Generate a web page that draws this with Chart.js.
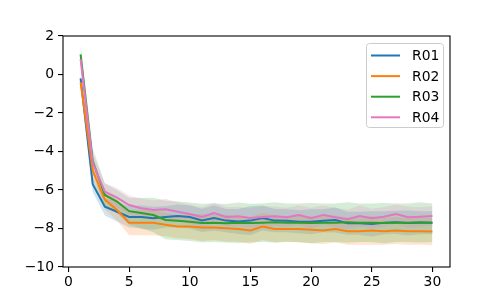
<!DOCTYPE html>
<html>
<head>
<meta charset="utf-8">
<script src="https://cdn.jsdelivr.net/npm/chart.js@4/dist/chart.umd.min.js"></script>
<style>
  html, body { margin: 0; padding: 0; background: #fff; }
  #wrap { width: 500px; height: 300px; }
</style>
</head>
<body>
<div id="wrap"><canvas id="myChart" width="500" height="300"></canvas></div>
<script>
// x positions (run index)
var steps = [1, 2, 3, 4, 5, 6, 7, 8, 9, 10, 11, 12, 13, 14, 15, 16, 17, 18, 19, 20, 21, 22, 23, 24, 25, 26, 27, 28, 29, 30];

var labels = ['R01', 'R02', 'R03', 'R04'];
var colors = ['#1f77b4', '#ff7f0e', '#2ca02c', '#e377c2'];

// mean values
var r01 = [-0.2, -5.7, -6.87, -7.13, -7.4, -7.4, -7.47, -7.4, -7.35, -7.4, -7.58, -7.45, -7.59, -7.64, -7.59, -7.45, -7.59, -7.6, -7.65, -7.65, -7.6, -7.56, -7.73, -7.73, -7.76, -7.7, -7.68, -7.72, -7.7, -7.7];
var r02 = [-0.4, -5.0, -6.5, -7.04, -7.7, -7.7, -7.7, -7.8, -7.9, -7.9, -7.95, -7.95, -7.99, -8.03, -8.1, -7.9, -8.03, -8.03, -8.03, -8.07, -8.1, -8.03, -8.14, -8.14, -8.1, -8.14, -8.1, -8.14, -8.14, -8.16];
var r03 = [1.05, -4.5, -6.26, -6.6, -7.1, -7.2, -7.3, -7.56, -7.6, -7.65, -7.72, -7.7, -7.73, -7.7, -7.72, -7.7, -7.68, -7.7, -7.7, -7.72, -7.7, -7.7, -7.68, -7.7, -7.7, -7.72, -7.7, -7.7, -7.68, -7.7];
var r04 = [0.8, -4.6, -6.09, -6.4, -6.78, -6.95, -7.04, -7.0, -7.13, -7.25, -7.4, -7.2, -7.4, -7.37, -7.45, -7.4, -7.37, -7.42, -7.3, -7.47, -7.3, -7.42, -7.52, -7.35, -7.47, -7.39, -7.25, -7.42, -7.39, -7.35];

// spread (std) around each mean
var r01Std = [0.25, 0.4, 0.45, 0.5, 0.55, 0.6, 0.6, 0.55, 0.6, 0.6, 0.6, 0.65, 0.6, 0.65, 0.75, 0.65, 0.6, 0.6, 0.6, 0.65, 0.6, 0.65, 0.6, 0.6, 0.65, 0.6, 0.6, 0.65, 0.6, 0.6];
var r02Std = [0.35, 0.45, 0.5, 0.55, 0.65, 0.65, 0.65, 0.6, 0.6, 0.65, 0.7, 0.65, 0.7, 0.65, 0.7, 0.7, 0.7, 0.65, 0.7, 0.7, 0.7, 0.7, 0.7, 0.7, 0.75, 0.7, 0.7, 0.7, 0.7, 0.7];
var r03Std = [0.55, 0.65, 0.6, 0.6, 0.7, 0.8, 0.9, 1.0, 1.0, 1.0, 1.0, 1.0, 1.0, 1.05, 1.0, 1.0, 1.05, 1.0, 1.0, 1.05, 1.0, 1.0, 1.05, 1.0, 1.0, 1.05, 1.0, 1.0, 1.05, 1.0];
var r04Std = [0.45, 0.5, 0.45, 0.5, 0.5, 0.5, 0.5, 0.55, 0.5, 0.5, 0.5, 0.55, 0.5, 0.5, 0.5, 0.55, 0.5, 0.5, 0.5, 0.55, 0.5, 0.5, 0.5, 0.55, 0.5, 0.5, 0.5, 0.55, 0.5, 0.5];

var xTicks = [0, 5, 10, 15, 20, 25, 30];
var yTicks = [-10, -8, -6, -4, -2, 0, 2];

var means = [r01, r02, r03, r04];
var stds = [r01Std, r02Std, r03Std, r04Std];

function pts(vals) {
    return steps.map(function (x, i) { return { x: x, y: vals[i] }; });
}

function rgba(hex, a) {
    var n = parseInt(hex.slice(1), 16);
    return 'rgba(' + (n >> 16) + ',' + ((n >> 8) & 255) + ',' + (n & 255) + ',' + a + ')';
}

var datasets = [];
// lines first (series plotted later sits on top)
means.forEach(function (m, k) {
    datasets.push({
        label: labels[k],
        data: pts(m),
        borderColor: colors[k],
        backgroundColor: colors[k],
        borderWidth: 2,
        pointRadius: 0,
        tension: 0,
        fill: false,
        order: 4 - k
    });
});
// shaded bands
means.forEach(function (m, k) {
    var s = stds[k];
    datasets.push({
        label: '_up' + k,
        data: pts(m.map(function (v, i) { return v + s[i]; })),
        borderWidth: 0,
        borderColor: 'rgba(0,0,0,0)',
        pointRadius: 0,
        fill: false,
        order: 20 - k
    });
    datasets.push({
        label: '_lo' + k,
        data: pts(m.map(function (v, i) { return v - s[i]; })),
        borderWidth: 0,
        borderColor: 'rgba(0,0,0,0)',
        backgroundColor: rgba(colors[k], 0.2),
        pointRadius: 0,
        fill: '-1',
        order: 20 - k
    });
});

var font = { family: 'DejaVu Sans', size: 13.9 };

// box around plot + matplotlib-like legend
var frame = {
    id: 'frame',
    afterDraw: function (chart) {
        var c = chart.ctx, a = chart.chartArea;
        c.save();
        c.strokeStyle = '#000';
        c.lineWidth = 1.1;
        c.strokeRect(a.left, a.top, a.right - a.left, a.bottom - a.top);

        // legend
        var bx = 366.5, by = 43.5, bw = 77, bh = 84, r = 3;
        c.beginPath();
        c.moveTo(bx + r, by);
        c.arcTo(bx + bw, by, bx + bw, by + bh, r);
        c.arcTo(bx + bw, by + bh, bx, by + bh, r);
        c.arcTo(bx, by + bh, bx, by, r);
        c.arcTo(bx, by, bx + bw, by, r);
        c.closePath();
        c.fillStyle = 'rgba(255,255,255,0.8)';
        c.fill();
        c.strokeStyle = '#cccccc';
        c.lineWidth = 1;
        c.stroke();

        c.font = '13.9px "DejaVu Sans"';
        c.textBaseline = 'middle';
        c.textAlign = 'left';
        labels.forEach(function (lab, k) {
            var y = 55.5 + k * 20.6;
            c.strokeStyle = colors[k];
            c.lineWidth = 2;
            c.beginPath();
            c.moveTo(371, y);
            c.lineTo(400, y);
            c.stroke();
            c.fillStyle = '#000';
            c.fillText(lab, 412, y + 1);
        });
        c.restore();
    }
};

function minus(v) {
    return String(v).replace('-', '\u2212');
}

var ctx = document.getElementById('myChart').getContext('2d');
var chart = new Chart(ctx, {
    type: 'line',
    data: { datasets: datasets },
    options: {
        responsive: false,
        animation: false,
        events: [],
        layout: { padding: { left: 0, right: 50, top: 36, bottom: 0 } },
        plugins: {
            legend: { display: false },
            tooltip: { enabled: false }
        },
        scales: {
            x: {
                type: 'linear',
                min: -0.45,
                max: 31.45,
                afterBuildTicks: function (s) { s.ticks = xTicks.map(function (v) { return { value: v }; }); },
                afterFit: function (s) { s.height = 33; },
                grid: { drawOnChartArea: false, drawTicks: true, tickLength: 5, tickColor: '#000', lineWidth: 1.1 },
                border: { display: false },
                ticks: { color: '#000', font: font, padding: 2, maxRotation: 0, callback: minus }
            },
            y: {
                min: -10,
                max: 2,
                afterBuildTicks: function (s) { s.ticks = yTicks.map(function (v) { return { value: v }; }); },
                afterFit: function (s) { s.width = 63; },
                grid: { drawOnChartArea: false, drawTicks: true, tickLength: 5, tickColor: '#000', lineWidth: 1.1 },
                border: { display: false },
                ticks: { color: '#000', font: font, padding: 4, callback: minus }
            }
        }
    },
    plugins: [frame]
});
</script>
</body>
</html>
